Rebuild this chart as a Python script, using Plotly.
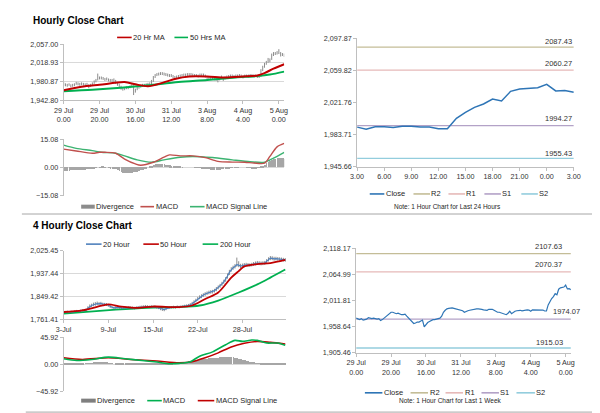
import plotly.graph_objects as go

W, H = 600, 413
FONT = "Liberation Sans, Arial, sans-serif"

# ================= Hourly data (29 Jul 0:00 -> 5 Aug 3:00) =================
hourly_close = [
    1976, 1974, 1973, 1975, 1972, 1973, 1974, 1977, 1976, 1975,
    1976, 1975, 1974, 1975, 1971, 1973, 1976, 1979, 1982, 1986,
    1988, 1988, 1987, 1985, 1986, 1984, 1983, 1983, 1984, 1980,
    1976, 1972, 1968, 1965, 1966, 1968, 1968, 1970, 1972, 1958,
    1963, 1967, 1969, 1971, 1973, 1973, 1974, 1975, 1976, 1980,
    1988, 1992, 1995, 1996, 1997, 1997, 1996, 1995, 1994, 1993,
    1993, 1991, 1988, 1990, 1991, 1992, 1993, 1994, 1994, 1995,
    1995, 1995, 1994, 1993, 1993, 1992, 1994, 1994, 1994, 1992,
    1989, 1988, 1988, 1987, 1986, 1985, 1983, 1986, 1990, 1985,
    1988, 1990, 1991, 1992, 1992, 1991, 1992, 1992, 1993, 1992.5,
    1990, 1993, 1993, 1992, 1993.5, 1993.5, 1992.5, 1992.5, 1990.5, 1990.5,
    2003, 2010, 2016, 2020, 2025.8, 2023.5, 2035, 2037.8, 2038.6, 2039.4,
    2043.3, 2035.5, 2036, 2034,
]
hourly_high = [
    1979, 1977, 1976, 1977, 1975, 1976, 1977, 1980, 1979, 1978,
    1979, 1978, 1977, 1978, 1975, 1976, 1979, 1983, 1986, 1997,
    1991, 1991, 1990, 1988, 1989, 1987, 1986, 1986, 1987, 1984,
    1980, 1976, 1972, 1969, 1969, 1971, 1971, 1973, 1975, 1973,
    1966, 1970, 1972, 1974, 1976, 1976, 1977, 1978, 1979, 1984,
    1992, 1996, 1998, 1999, 2000, 2000, 1999, 1998, 1997, 1996,
    1996, 1994, 1992, 1993, 1994, 1995, 1996, 1997, 1997, 1998,
    1998, 1998, 1997, 1996, 1996, 1995, 1997, 1997, 1997, 1995,
    1992, 1991, 1991, 1990, 1989, 1988, 1987, 1989, 1993, 1989,
    1991, 1993, 1994, 1995, 1995, 1994, 1995, 1995, 1996, 1995,
    1993, 1995, 1995, 1995, 1996, 1996, 1995, 1995, 1993, 1993,
    2006, 2013, 2019, 2023, 2029, 2028, 2038, 2041, 2041, 2043,
    2047, 2041, 2039, 2038,
]
hourly_low = [
    1972, 1971, 1970, 1972, 1969, 1970, 1971, 1974, 1973, 1972,
    1973, 1972, 1971, 1972, 1967, 1970, 1973, 1976, 1979, 1983,
    1985, 1985, 1984, 1982, 1983, 1981, 1980, 1980, 1980, 1976,
    1972, 1968, 1964, 1962, 1963, 1965, 1965, 1967, 1969, 1953,
    1958, 1963, 1966, 1968, 1970, 1970, 1971, 1972, 1973, 1975,
    1980, 1988, 1992, 1993, 1994, 1994, 1993, 1992, 1991, 1990,
    1990, 1988, 1985, 1987, 1988, 1989, 1990, 1991, 1991, 1992,
    1992, 1992, 1991, 1990, 1990, 1989, 1991, 1991, 1991, 1989,
    1986, 1985, 1985, 1984, 1983, 1982, 1979, 1983, 1986, 1982,
    1985, 1987, 1988, 1989, 1989, 1988, 1989, 1989, 1990, 1990,
    1987, 1990, 1990, 1989, 1991, 1991, 1990, 1990, 1988, 1988,
    1990, 2002, 2009, 2015, 2019, 2020, 2025, 2033, 2035, 2036,
    2037, 2032, 2033, 2031,
]
hourly_tick_idx = [0, 20, 40, 60, 80, 100, 120]
hourly_tick_text = ["29 Jul<br>0.00", "29 Jul<br>20.00", "30 Jul<br>16.00",
                    "31 Jul<br>12.00", "3 Aug<br>8.00", "4 Aug<br>4.00", "5 Aug<br>0.00"]

ma20_hr_x = [0, 10, 20, 34, 40, 47, 55, 62, 70, 80, 90, 100, 108, 112, 117, 123]
ma20_hr = [1963, 1970, 1974, 1979.5, 1975, 1971, 1978, 1986, 1991, 1991, 1989, 1991,
           1993, 1998, 2007, 2016]
ma50_hr_x = [0, 16, 32, 47, 64, 80, 96, 108, 115, 123]
ma50_hr = [1961, 1964, 1968, 1973, 1979.5, 1984, 1989, 1992, 1995, 2001]

macd_hr_x = [0, 7, 16, 20, 23, 29, 34, 40, 43, 50, 56, 59, 65, 72, 79, 86, 94, 101,
             106, 112, 115, 119, 123]
macd_hr = [9.8, 8.8, 7.6, 8.1, 8.1, 7.6, 4.5, 1.9, 1.2, 2.8, 5.5, 6.7, 6.2, 6.2, 5.3,
           3.3, 2.9, 2.8, 2.4, 2.3, 5.9, 11.0, 12.8]
signal_hr_x = [0, 7, 16, 21, 29, 34, 41, 49, 56, 65, 72, 83, 94, 104, 112, 117, 123]
signal_hr = [11.9, 10.2, 9.0, 8.1, 7.6, 6.2, 4.1, 2.8, 4.1, 5.5, 5.9, 5.3, 4.1, 3.1,
             2.8, 5.0, 8.1]
divergence_hr = [
    -2, -2, -1.8, -1.8, -1.5, -1.5, -1.5, -1.4, -1.4, -1.3,
    -1.3, -1.2, -1.2, -1, -1, -0.8, -0.6, -0.4, -0.2, 0,
    0.1, 0.2, 0.2, 0.1, 0, -0.2, -0.4, -0.6, -0.8, -1,
    -1.5, -2, -2.4, -2.8, -3, -3, -3, -3, -2.8, -2.7,
    -2.5, -2.2, -2, -1.6, -1.2, -0.8, -0.4, 0, 0.4, 0.8,
    1.2, 1.6, 1.9, 2, 2, 1.9, 1.7, 1.5, 1.2, 1,
    0.8, 0.6, 0.5, 0.4, 0.3, 0.2, 0.1, 0, 0, 0,
    0, 0, 0, -0.1, -0.1, -0.2, -0.3, -0.4, -0.5, -0.6,
    -0.8, -1, -1.2, -1.3, -1.4, -1.4, -1.3, -1.2, -1, -0.8,
    -0.6, -0.5, -0.4, -0.3, -0.2, -0.2, -0.1, -0.1, 0, 0,
    0, 0, -0.1, -0.2, -0.3, -0.4, -0.4, -0.4, -0.3, -0.2,
    0.2, 0.8, 1.5, 2.2, 3, 3.5, 4, 4.4, 4.6, 4.8,
    5, 5, 4.8, 4.6,
]

# last 24 hours (4 Aug 3:00 -> 5 Aug 3:00)
last24_start = 99
last24_ticks = ["3.00", "6.00", "9.00", "12.00", "15.00", "18.00", "21.00", "0.00", "3.00"]

level_names = ["R2", "R1", "S1", "S2"]
levels_24h = [2087.43, 2060.27, 1994.27, 1955.43]
levels_1w = [2107.63, 2070.37, 1974.07, 1915.03]
level_colors = ["#C4BD97", "#E6B9B8", "#B3A2C7", "#93CDDD"]

# ================= 4-hourly data (3 Jul -> 5 Aug) =================
h20_4h = [
    1788, 1789, 1790, 1789, 1791, 1790, 1792, 1793, 1792, 1794,
    1796, 1795, 1797, 1805, 1812, 1815, 1818, 1820, 1822, 1821,
    1823, 1820, 1820, 1819, 1816, 1811, 1808, 1806, 1807, 1809,
    1808, 1806, 1805, 1807, 1806, 1808, 1807, 1806, 1805, 1807,
    1808, 1809, 1810, 1811, 1812, 1811, 1810, 1812, 1811, 1810,
    1808, 1806, 1803, 1800, 1799, 1803, 1806, 1807, 1808, 1809,
    1808, 1810, 1809, 1811, 1812, 1813, 1814, 1815, 1818, 1822,
    1828, 1834, 1840, 1846, 1850, 1855, 1859, 1862, 1865, 1867,
    1868, 1872, 1878, 1884, 1890, 1898, 1906, 1915, 1928, 1942,
    1953, 1960, 1965, 1972, 1970, 1966, 1968, 1970, 1971, 1970,
    1970, 1972, 1974, 1976, 1978, 1977, 1976, 1977, 1978, 1985,
    1992, 1997, 1996, 1994, 1995, 1994, 1993, 1992, 1991, 1990,
]
high_4h = [
    1793, 1794, 1795, 1794, 1796, 1795, 1797, 1798, 1797, 1799,
    1801, 1800, 1803, 1812, 1819, 1822, 1826, 1828, 1830, 1828,
    1829, 1826, 1825, 1824, 1821, 1816, 1813, 1811, 1812, 1814,
    1813, 1811, 1810, 1812, 1811, 1813, 1812, 1811, 1810, 1812,
    1813, 1814, 1815, 1816, 1817, 1816, 1815, 1817, 1816, 1815,
    1813, 1811, 1808, 1805, 1804, 1808, 1811, 1812, 1813, 1814,
    1813, 1815, 1814, 1816, 1817, 1818, 1819, 1821, 1824, 1829,
    1835, 1841, 1848, 1854, 1858, 1862, 1866, 1869, 1872, 1874,
    1875, 1879, 1886, 1892, 1898, 1906, 1914, 1924, 1938, 1952,
    1962, 1968, 1974, 1999, 1985, 1975, 1976, 1978, 1979, 1978,
    1977, 1979, 1982, 1984, 1986, 1985, 1984, 1985, 1986, 1993,
    2000, 2005, 2004, 2002, 2002, 2001, 2000, 1999, 1998, 1997,
]
low_4h = [
    1784, 1785, 1786, 1785, 1787, 1786, 1788, 1789, 1788, 1790,
    1792, 1791, 1793, 1797, 1805, 1809, 1812, 1814, 1816, 1815,
    1816, 1814, 1814, 1813, 1810, 1805, 1803, 1801, 1802, 1804,
    1803, 1801, 1800, 1802, 1801, 1803, 1802, 1801, 1800, 1802,
    1803, 1804, 1805, 1806, 1807, 1806, 1805, 1807, 1806, 1805,
    1803, 1801, 1797, 1794, 1793, 1797, 1801, 1802, 1803, 1804,
    1803, 1805, 1804, 1806, 1807, 1808, 1809, 1810, 1812, 1815,
    1820, 1827, 1833, 1839, 1843, 1848, 1852, 1855, 1858, 1860,
    1861, 1865, 1870, 1877, 1883, 1890, 1898, 1906, 1918, 1932,
    1945, 1952, 1957, 1964, 1962, 1958, 1960, 1962, 1964, 1963,
    1963, 1965, 1967, 1969, 1971, 1970, 1969, 1970, 1971, 1977,
    1984, 1989, 1989, 1987, 1988, 1987, 1986, 1985, 1984, 1983,
]
ticks_4h_idx = [0, 24, 48, 72, 96]
ticks_4h_text = ["3-Jul", "9-Jul", "15-Jul", "22-Jul", "28-Jul"]

ma50_4h_x = [0, 10, 21, 24, 31, 40, 48, 62, 69, 76, 83, 90, 94, 97, 104, 111, 119]
ma50_4h = [1790, 1796, 1815, 1819, 1811, 1806, 1811, 1809, 1815, 1840, 1865, 1922,
           1947, 1965, 1974, 1978, 1990]
ma200_4h_x = [0, 28, 45, 62, 73, 83, 94, 104, 111, 119]
ma200_4h = [1784, 1799, 1806, 1809, 1815, 1834, 1865, 1896, 1922, 1953]

macd_4h_x = [0, 7, 15, 24, 33, 42, 50, 57, 62, 68, 73, 80, 87, 92, 96, 101, 104, 109,
             115, 119]
macd_4h = [9.5, 6.7, 8.4, 12.3, 9.5, 6.7, 3.9, 1.1, 1.7, 4.5, 14, 21.3, 33.6, 40.9,
           39.2, 41.5, 40.9, 36.4, 36.4, 32.5]
signal_4h_x = [0, 10, 24, 36, 50, 62, 69, 76, 83, 90, 97, 104, 111, 119]
signal_4h = [11.2, 8.4, 11.2, 8.4, 5.6, 2.8, 4.5, 11.2, 19.6, 29.7, 35.9, 39.2, 37.5, 34.7]
divergence_4h = [
    -1, -1, -1, -1, -0.8, -0.8, -0.6, -0.5, -0.4, -0.3,
    -0.2, 0, 0.3, 0.6, 1, 1.5, 2, 2.2, 2.4, 2.5,
    2.4, 2.2, 2, 1.6, 1.2, 0.8, 0.4, 0, -0.4, -0.8,
    -1, -1.2, -1.3, -1.4, -1.4, -1.4, -1.3, -1.2, -1.1, -1,
    -1, -1, -0.9, -0.9, -0.8, -0.8, -0.8, -0.8, -0.9, -1,
    -1.1, -1.2, -1.3, -1.3, -1.2, -1, -0.8, -0.5, -0.2, 0.2,
    0.6, 1, 1.5, 2, 2.6, 3.2, 3.8, 4.4, 5, 5.5,
    6, 6.5, 7, 7.4, 7.8, 8.2, 8.6, 9, 9.4, 9.8,
    10, 10.3, 10.6, 10.8, 11, 11.2, 11.3, 11.4, 11.4, 11.3,
    11.2, 11, 10.6, 10, 9.2, 8.4, 7.5, 6.6, 5.6, 4.6,
    3.8, 3, 2.2, 1.5, 0.8, 0.2, -0.4, -0.8, -1.2, -1.4,
    -1.6, -1.8, -2, -2, -2.2, -2.2, -2.4, -2.4, -2.6, -2.6,
]

# ================= colours =================
GRAY_BAR = "#8C8C8C"
DIV_GRAY = "#A6A6A6"
RED = "#C00000"
GREEN = "#00B050"
MACD_RED = "#C0504D"
SIG_GREEN = "#3CB371"
CLOSE_BLUE = "#2E75B6"
BLUE20 = "#4F81BD"


def px_x(p):
    return p / W


def px_y(p):
    return 1 - p / H


def range_bars(high, low):
    xs, ys = [], []
    for i, (hi, lo) in enumerate(zip(high, low)):
        xs += [i, i, None]
        ys += [lo, hi, None]
    return xs, ys


fig = go.Figure()

# ---- Top-left: hourly price bars + MAs ----
bx, by = range_bars(hourly_high, hourly_low)
fig.add_trace(go.Scatter(x=bx, y=by, mode="lines", line=dict(color=GRAY_BAR, width=1),
                         xaxis="x", yaxis="y", hoverinfo="skip"))
fig.add_trace(go.Scatter(x=ma50_hr_x, y=ma50_hr, mode="lines", name="50 Hrs MA",
                         line=dict(color=GREEN, width=2, shape="spline", smoothing=0.8),
                         xaxis="x", yaxis="y"))
fig.add_trace(go.Scatter(x=ma20_hr_x, y=ma20_hr, mode="lines", name="20 Hr MA",
                         line=dict(color=RED, width=2, shape="spline", smoothing=0.8),
                         xaxis="x", yaxis="y"))

# ---- Top-left MACD ----
fig.add_trace(go.Bar(x=list(range(len(divergence_hr))), y=divergence_hr, width=0.4,
                     marker=dict(color=DIV_GRAY, line=dict(width=0)), name="Divergence",
                     xaxis="x2", yaxis="y2"))
fig.add_trace(go.Scatter(x=signal_hr_x, y=signal_hr, mode="lines", name="MACD Signal Line",
                         line=dict(color=SIG_GREEN, width=1.4, shape="spline", smoothing=0.8),
                         xaxis="x2", yaxis="y2"))
fig.add_trace(go.Scatter(x=macd_hr_x, y=macd_hr, mode="lines", name="MACD",
                         line=dict(color=MACD_RED, width=1.4, shape="spline", smoothing=0.8),
                         xaxis="x2", yaxis="y2"))

# ---- Top-right: last 24 hours ----
last24 = hourly_close[last24_start:]
for lvl, col in zip(levels_24h, level_colors):
    fig.add_trace(go.Scatter(x=[0, len(last24) - 1], y=[lvl, lvl], mode="lines",
                             line=dict(color=col, width=1.3), xaxis="x3", yaxis="y3"))
fig.add_trace(go.Scatter(x=list(range(len(last24))), y=last24, mode="lines", name="Close",
                         line=dict(color=CLOSE_BLUE, width=1.5), xaxis="x3", yaxis="y3"))

# ---- Bottom-left: 4-hourly price ----
bx4, by4 = range_bars(high_4h, low_4h)
fig.add_trace(go.Scatter(x=bx4, y=by4, mode="lines", line=dict(color=GRAY_BAR, width=1),
                         xaxis="x4", yaxis="y4", hoverinfo="skip"))
fig.add_trace(go.Scatter(x=ma200_4h_x, y=ma200_4h, mode="lines", name="200 Hour",
                         line=dict(color=GREEN, width=1.8, shape="spline", smoothing=0.8),
                         xaxis="x4", yaxis="y4"))
fig.add_trace(go.Scatter(x=list(range(len(h20_4h))), y=h20_4h, mode="lines", name="20 Hour",
                         line=dict(color=BLUE20, width=1.2), xaxis="x4", yaxis="y4"))
fig.add_trace(go.Scatter(x=ma50_4h_x, y=ma50_4h, mode="lines", name="50 Hour",
                         line=dict(color=RED, width=1.8, shape="spline", smoothing=0.8),
                         xaxis="x4", yaxis="y4"))

# ---- Bottom-left MACD ----
fig.add_trace(go.Bar(x=list(range(len(divergence_4h))), y=divergence_4h, width=0.45,
                     marker=dict(color=DIV_GRAY, line=dict(width=0)), name="Divergence",
                     xaxis="x5", yaxis="y5"))
fig.add_trace(go.Scatter(x=signal_4h_x, y=signal_4h, mode="lines", name="MACD Signal Line",
                         line=dict(color=RED, width=1.6, shape="spline", smoothing=0.8),
                         xaxis="x5", yaxis="y5"))
fig.add_trace(go.Scatter(x=macd_4h_x, y=macd_4h, mode="lines", name="MACD",
                         line=dict(color=GREEN, width=1.6, shape="spline", smoothing=0.8),
                         xaxis="x5", yaxis="y5"))

# ---- Bottom-right: last week hourly ----
for lvl, col in zip(levels_1w, level_colors):
    fig.add_trace(go.Scatter(x=[0, len(hourly_close) - 1], y=[lvl, lvl], mode="lines",
                             line=dict(color=col, width=1.3), xaxis="x6", yaxis="y6"))
fig.add_trace(go.Scatter(x=list(range(len(hourly_close))), y=hourly_close, mode="lines",
                         name="Close", line=dict(color=CLOSE_BLUE, width=1.2),
                         xaxis="x6", yaxis="y6"))

# ================= axes =================
TICKFONT = dict(family=FONT, size=7.2, color="#333333")
AXLINE = "#BFBFBF"
GRID = "#D9D9D9"


def xax(dom, rng, **kw):
    d = dict(domain=[px_x(dom[0]), px_x(dom[1])], range=rng, showgrid=False, zeroline=False,
             showline=True, linecolor=AXLINE, linewidth=1, ticks="outside", ticklen=3,
             tickcolor=AXLINE, tickfont=TICKFONT, fixedrange=True)
    d.update(kw)
    return d


def yax(dom, rng, tickvals, fmt, grid, anchor, **kw):
    d = dict(domain=[px_y(dom[1]), px_y(dom[0])], range=rng, tickmode="array",
             tickvals=tickvals, tickformat=fmt, showgrid=grid, gridcolor=GRID, gridwidth=1,
             zeroline=False, showline=True, linecolor=AXLINE, linewidth=1, ticks="outside",
             ticklen=3, tickcolor=AXLINE, tickfont=TICKFONT, anchor=anchor, fixedrange=True)
    d.update(kw)
    return d


layout = dict(
    width=W, height=H, margin=dict(l=0, r=0, t=0, b=0),
    paper_bgcolor="white", plot_bgcolor="white", showlegend=False,
    font=dict(family=FONT, color="#333333"), bargap=0,
    xaxis=xax((47, 274), [0, 123], tickmode="array", tickvals=hourly_tick_idx,
              ticktext=hourly_tick_text, anchor="y"),
    yaxis=yax((33, 90), [1942.80, 2057.00], [1942.80, 1980.87, 2018.93, 2057.00], ",.2f",
              True, "x"),
    xaxis2=xax((47, 274), [0, 123], showticklabels=False, ticks="", showline=False,
               anchor="y2"),
    yaxis2=yax((130, 188), [-15.08, 15.08], [-15.08, 0, 15.08], ".2f", True, "x2"),
    xaxis3=xax((349, 572), [0, 24], tickmode="array", tickvals=list(range(0, 25, 3)),
               ticktext=last24_ticks, anchor="y3"),
    yaxis3=yax((27, 158), [1945.66, 2097.87], [1945.66, 1983.71, 2021.76, 2059.82, 2097.87],
               ",.2f", False, "x3"),
    xaxis4=xax((47, 276), [0, 119.5], tickmode="array", tickvals=ticks_4h_idx,
               ticktext=ticks_4h_text, anchor="y4"),
    yaxis4=yax((244, 314.3), [1761.41, 2025.45], [1761.41, 1849.42, 1937.44, 2025.45],
               ",.2f", True, "x4"),
    xaxis5=xax((47, 276), [0, 119.5], showticklabels=False, ticks="", showline=False,
               anchor="y5"),
    yaxis5=yax((332.7, 387.7), [-45.92, 45.92], [-45.92, 0, 45.92], ".2f", True, "x5"),
    xaxis6=xax((348, 569), [0, 123], tickmode="array", tickvals=hourly_tick_idx,
               ticktext=hourly_tick_text, anchor="y6"),
    yaxis6=yax((241.7, 348.3), [1905.46, 2118.17],
               [1905.46, 1958.64, 2011.81, 2064.99, 2118.17], ",.2f", False, "x6"),
)
fig.update_layout(**layout)

# ================= level labels =================
for lvl, sh in zip(levels_24h, [5.5, 7, 7, 4.5]):
    fig.add_annotation(xref="x3", yref="y3", x=24, y=lvl, text=f"{lvl:.2f}", showarrow=False,
                       xanchor="right", yanchor="middle", yshift=sh,
                       font=dict(family=FONT, size=7.5, color="#333333"))
for lvl, sh, xs in zip(levels_1w, [7.5, 7, 8, 5.5], [-7, -7, 11, -6]):
    fig.add_annotation(xref="x6", yref="y6", x=123, y=lvl, text=f"{lvl:.2f}", showarrow=False,
                       xanchor="right", yanchor="middle", yshift=sh, xshift=xs,
                       font=dict(family=FONT, size=7.5, color="#333333"))

# ================= titles =================
for txt, ypx in [("Hourly Close Chart", 9), ("4 Hourly Close Chart", 218)]:
    fig.add_annotation(xref="paper", yref="paper", x=px_x(13), y=px_y(ypx), text=f"<b>{txt}</b>",
                       showarrow=False, xanchor="left", yanchor="middle",
                       font=dict(family=FONT, size=10, color="#000000"))

# ================= separators =================
for ypx, x0, x1 in [(206.5, 4, 592), (409, 8, 592)]:
    fig.add_shape(type="line", xref="paper", yref="paper", x0=px_x(x0), x1=px_x(x1),
                  y0=px_y(ypx), y1=px_y(ypx), line=dict(color="#A6A6A6", width=1))

# ================= manual legends =================
LEGFONT = dict(family=FONT, size=7.5, color="#262626")


def add_legend(items, ypx):
    for label, color, kind, x0, x1 in items:
        fig.add_shape(type="line", xref="paper", yref="paper", x0=px_x(x0), x1=px_x(x1),
                      y0=px_y(ypx), y1=px_y(ypx),
                      line=dict(color=color, width=4 if kind == "bar" else 1.6))
        fig.add_annotation(xref="paper", yref="paper", x=px_x(x1 + 0.5), y=px_y(ypx),
                           text=label, showarrow=False, xanchor="left", yanchor="middle",
                           font=LEGFONT, borderpad=0)


add_legend([("20 Hr MA", RED, "line", 102, 117), ("50 Hrs MA", GREEN, "line", 161, 175)], 26)
add_legend([("Divergence", GRAY_BAR, "bar", 65, 79), ("MACD", MACD_RED, "line", 126, 140),
            ("MACD Signal Line", SIG_GREEN, "line", 177, 192)], 199)
add_legend([("Close", CLOSE_BLUE, "line", 362, 377)] +
           [(n, c, "line", a, b) for n, c, (a, b) in
            zip(level_names, level_colors, [(407, 424), (443, 460), (480, 497), (518, 535)])],
           186)
add_legend([("20 Hour", BLUE20, "line", 70, 86), ("50 Hour", RED, "line", 129, 145),
            ("200 Hour", GREEN, "line", 190, 206)], 237.3)
add_legend([("Divergence", "#7F7F7F", "bar", 65, 80), ("MACD", GREEN, "line", 133, 148),
            ("MACD Signal Line", RED, "line", 185, 202)], 397.3)
add_legend([("Close", CLOSE_BLUE, "line", 357, 375)] +
           [(n, c, "line", a, b) for n, c, (a, b) in
            zip(level_names, level_colors, [(404, 422), (440, 458), (477, 495), (513, 532)])],
           389.3)

for txt, xpx, ypx in [("Note: 1 Hour Chart for Last 24 Hours", 442, 199),
                      ("Note: 1 Hour Chart for Last 1 Week", 445, 397.3)]:
    fig.add_annotation(xref="paper", yref="paper", x=px_x(xpx), y=px_y(ypx), text=txt,
                       showarrow=False, xanchor="center", yanchor="middle",
                       font=dict(family=FONT, size=6.5, color="#262626"))

fig.write_html("out.html")
